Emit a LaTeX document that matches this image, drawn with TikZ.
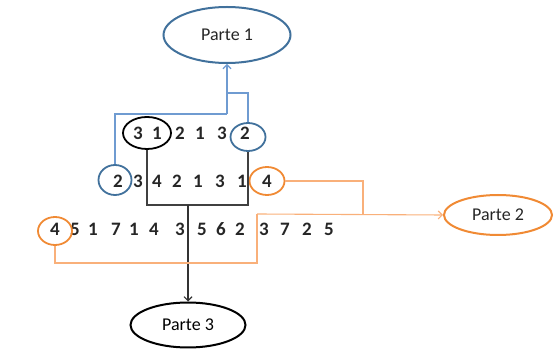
\documentclass[tikz,border=0pt]{standalone}
\usepackage{fontspec}
\setmainfont{Carlito}
\usetikzlibrary{shapes.geometric,arrows.meta}
\definecolor{cblue}{HTML}{41719C}
\definecolor{lblue}{HTML}{6F9BD1}
\definecolor{corange}{HTML}{F08A34}
\definecolor{lorange}{HTML}{F9B07A}
\begin{document}
\begin{tikzpicture}[x=1pt,y=-1pt,
  digit/.style={inner sep=0pt,font=\fontsize{19}{19}\selectfont\bfseries,text=black!85},
  ring/.style={ellipse,draw,line width=1.8pt,inner sep=0pt},
  parte/.style={ellipse,draw,line width=2pt,inner sep=0pt,font=\fontsize{18}{18}\selectfont,text=black!85},
  conn/.style={line width=1.1pt},
  tip/.style={-{Straight Barb[length=4pt,width=8pt]}}]
\useasboundingbox (0,0) rectangle (554,352);
% rows of digits
\foreach \x/\d [count=\i] in {138/3,157/1,180/2,200/1,222/3,245/2}
  \node[digit] (ra\i) at (\x,133) {\d};
\foreach \x/\d [count=\i] in {118/2,138/3,157/4,177/2,198/1,220/3,242/1,267/4}
  \node[digit] (rb\i) at (\x,181) {\d};
\foreach \x/\d [count=\i] in {55/4,75/5,93/1,116/7,134/1,154/4,180/3,202/5,221/6,240/2,264/3,285/7,307/2,329/5}
  \node[digit] (rc\i) at (\x,229) {\d};
% rings
\node[ring,black,minimum width=48pt,minimum height=32pt] (e31) at (147,133) {};
\node[ring,cblue,minimum width=35pt,minimum height=28pt] (c2b) at (248,137) {};
\node[ring,cblue,minimum width=33pt,minimum height=30pt] (c2a) at (115,180) {};
\node[ring,corange,minimum width=35pt,minimum height=28pt] (o4a) at (267,181) {};
\node[ring,corange,minimum width=34pt,minimum height=28pt] (o4b) at (55,231) {};
% parts
\node[parte,cblue,text=black!85,minimum width=127pt,minimum height=56pt] (p1) at (227,35) {Parte 1};
\node[parte,corange,text=black!85,minimum width=108pt,minimum height=40pt] (p2) at (498,215) {Parte 2};
\node[parte,black,minimum width=115pt,minimum height=45pt] (p3) at (188,325) {Parte 3};
% junctions
\coordinate (j1) at (227,114);
\coordinate (j2) at (227,93);
\coordinate (jb) at (188,205);
\coordinate (jo) at (363,214);
\coordinate (jo2) at (257,214);
\coordinate (jo3) at (257,263);
% blue connectors
\draw[conn,lblue] (c2a.north) |- (j1);
\draw[conn,lblue,tip] (j1) -- (p1.south);
\draw[conn,lblue] (c2b.north) |- (j2);
% black connectors
\draw[conn,black!75] (e31.south) |- (jb) -| (c2b.south);
\draw[conn,black!80,tip] (jb) -- (p3.north);
% orange connectors
\draw[conn,lorange] (o4a.east) -| (jo);
\draw[conn,lorange] (o4b.south) |- (jo3) -- (jo2);
\draw[conn,lorange,tip] (jo2) -- (p2.west);
\end{tikzpicture}
\end{document}
